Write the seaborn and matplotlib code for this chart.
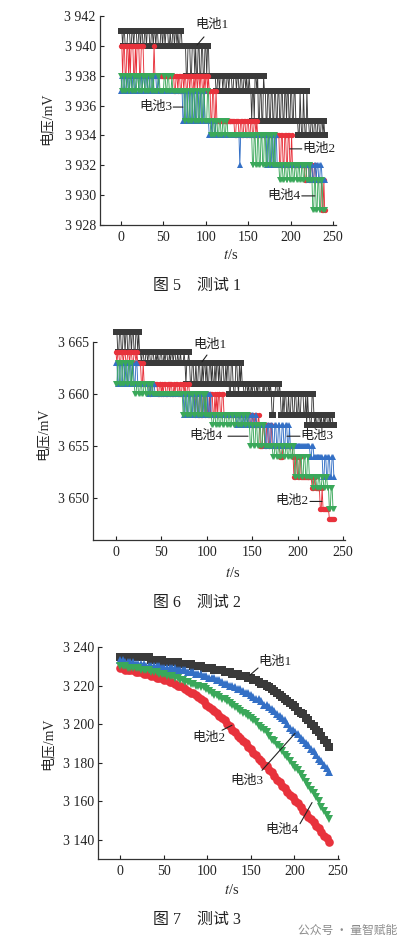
import numpy as np
import pandas as pd
import matplotlib
matplotlib.use("Agg")
import matplotlib.pyplot as plt
import seaborn as sns
from matplotlib.ticker import FuncFormatter, FixedLocator

# ---------------- data ----------------
batteries = ["电池1", "电池2", "电池3", "电池4"]
colors = ["#3a3a3a", "#e8323c", "#3470c6", "#3aa85a"]
markers = ["s", "o", "^", "v"]

# tests 1 and 2: one sample per second, t = 0 .. 240 s
t_fast = list(range(0, 241))

# each character = voltage offset (base-36 digit) from the base level, in mV
test1_base = 3928
test1_b1 = ("ddcddcccdd dccddcdddc cddcddccdd cdddccddcd dcddcccddc ddcdddccdc cddcddcdcc "
            "ddcccccaac ccaacccaca accaaccaac caccaaaaaa aa99aa9aaa 9aa99aa9aa a99aaa9aa9 "
            "9aa99aa9a9 9a997997aa 9a779977a9 9779977997 7997799779 9779979977 9977997776 "
            "6976697669 7766776677 6677667767 6")
test1_b2 = ("ccaccaacca cacccaacac ccaacccaaa aaaaaaaaac aaaaaaaaaa aaaaaaaaaa aaa99aa9aa "
            "99aa9aa99a a9aa99a9aa 9aa9aa99a9 aa9a997799 7797777777 7777777777 7777667776 "
            "6776677667 7667766776 7666666666 6666666666 6666666446 6446644664 4644444444 "
            "4444444334 4433443344 3333333113 1")
test1_b3 = ("9aa99aa9aa 9aa9aa99aa a99aa9aa9a a9aa99aa9a aa99a99999 9999999999 9999999999 "
            "9997799779 9779977977 9977997797 7777666766 6766666666 6666666666 6666666666 "
            "4666666666 6666666666 6666666666 6644664466 4466444444 4444444444 4444444444 "
            "4444444444 4433443344 3443344333 3")
test1_b4 = ("a99aa99aa9 9aa99aa99a a9aa99aa99 aa99aa99a9 9999aa9999 9aa99aa999 a999999999 "
            "9999977997 7997799779 9779977997 7799776677 6677667766 7766776666 6666666666 "
            "6666666666 6666644664 4664466446 6446644664 4644444334 4334433443 3443344334 "
            "4334433443 3344331133 1133113311 1")

test2_base = 3648
test2_b1 = ("iiggiiggii giiggiigii ggiigiggfg gffggfggff ggffgfgffg gffgfggffg fggfggffgf "
            "fgfffgfdff gfddffddfd dffddfdffd fddffdfddf dffdfddffd dfdffccffd ccffdcfdfd "
            "dccddcdccd cddccdcddc ccdcddccdc dcaaccddcc dcaacaccaa caaccaacca acaacccaac "
            "9caa99cca9 a99aa9a99a 9aa99a9aa9 9")
test2_b2 = ("gfggffggfg gffggfggff ggfgffffdd fdddddddcd ddddddccdd cdcddccddc ddccdcddcc "
            "dccddcdccd dccccccacc aaccaaccac caacaccaac acaccaacca aaaaaaaaaa aaaaaaaaaa "
            "aaaaaaa99a a99aa99a97 7799779977 9977777777 7666777777 7777764466 4466444444 "
            "4444443344 3333311311 1111100000 0")
test2_b3 = ("ffddffddff dffddffdff ddffdddddd ddddddccdc cddccccccc cccccccccc cccccccccc "
            "cccccaacca accaaccaac caaccaacca acaacaaaaa aaaaaaaaaa aaaaaaaaaa aaa99aa99a "
            "a99aa9aa99 aa99a99999 9999977997 7997799779 9779977997 7977777777 7777777777 "
            "7777667766 6666666644 6644664466 4")
test2_b4 = ("ddffddffdd ffddffddfd dccddccddc cddccddccd dccccccccc cccccccccc cccccccccc "
            "ccccaaccaa ccaaccaacc aaccaaccac aaaaaa99aa 99aa99aa99 aa99aa99aa 99aa99aa99 "
            "aa99aa9977 9977997799 7799777777 7776677667 7667766776 6776677446 6446644664 "
            "4664444334 4334433443 3443311331 1")

# test 3: one point every 3 s, voltage in mV
t_slow = list(range(0, 241, 3))
test3_b1 = [3235, 3235, 3235, 3235, 3235, 3235, 3235, 3235, 3235, 3235, 3235, 3235,
            3233, 3233, 3233, 3233, 3233, 3232, 3232, 3232, 3232,
            3232, 3232, 3231, 3231, 3231, 3231, 3231, 3230, 3230, 3230,
            3230, 3229, 3229, 3229, 3229, 3228, 3228, 3228, 3228, 3227,
            3227, 3227, 3226, 3226, 3226, 3225, 3225, 3225, 3224, 3224,
            3223, 3223, 3222, 3221, 3221, 3220, 3219, 3218, 3217, 3216,
            3215, 3214, 3213, 3212, 3211, 3210, 3209, 3207, 3206, 3205,
            3203, 3202, 3200, 3199, 3197, 3196, 3194, 3192, 3190, 3188]
test3_b2 = [3229, 3229, 3228, 3228, 3228, 3228, 3227, 3227, 3227, 3226, 3226,
            3226, 3225, 3225, 3224, 3224, 3224, 3223, 3223, 3222, 3222,
            3221, 3220, 3220, 3219, 3218, 3217, 3216, 3216, 3215, 3214,
            3213, 3212, 3210, 3209, 3208, 3207, 3206, 3204, 3203, 3202,
            3200, 3199, 3197, 3196, 3194, 3193, 3191, 3190, 3188, 3187,
            3185, 3184, 3182, 3181, 3179, 3178, 3176, 3175, 3173, 3171,
            3170, 3168, 3167, 3165, 3163, 3162, 3160, 3159, 3157, 3155,
            3154, 3152, 3151, 3149, 3147, 3146, 3144, 3142, 3141, 3139]
test3_b3 = [3233, 3233, 3232, 3232, 3232, 3232, 3231, 3231, 3231, 3231, 3230,
            3230, 3230, 3230, 3230, 3230, 3229, 3229, 3229, 3229, 3229,
            3229, 3228, 3228, 3228, 3228, 3227, 3227, 3227, 3226, 3226,
            3226, 3225, 3225, 3224, 3224, 3224, 3223, 3223, 3222, 3221,
            3221, 3220, 3220, 3219, 3218, 3218, 3217, 3216, 3216, 3215,
            3214, 3213, 3213, 3212, 3210, 3210, 3209, 3208, 3207, 3205,
            3204, 3203, 3202, 3200, 3198, 3197, 3196, 3195, 3193, 3192,
            3190, 3189, 3187, 3186, 3184, 3182, 3181, 3179, 3177, 3175]
test3_b4 = [3230, 3230, 3230, 3229, 3229, 3229, 3229, 3229, 3228, 3228, 3228,
            3228, 3227, 3227, 3227, 3226, 3226, 3226, 3225, 3225, 3225,
            3224, 3224, 3223, 3223, 3222, 3222, 3221, 3221, 3220, 3220,
            3219, 3219, 3218, 3217, 3216, 3215, 3215, 3214, 3213, 3213,
            3212, 3211, 3210, 3209, 3208, 3207, 3206, 3205, 3204, 3203,
            3202, 3201, 3199, 3198, 3197, 3196, 3194, 3192, 3191, 3189,
            3188, 3186, 3184, 3183, 3181, 3179, 3177, 3176, 3174, 3172,
            3170, 3168, 3166, 3164, 3162, 3160, 3157, 3155, 3153, 3151]

x_ticks = [0, 50, 100, 150, 200, 250]
test1_yticks = [3928, 3930, 3932, 3934, 3936, 3938, 3940, 3942]
test2_yticks = [3650, 3655, 3660, 3665]
test3_yticks = [3140, 3160, 3180, 3200, 3220, 3240]


def decode(code, base):
    s = code.replace(" ", "")
    assert len(s) == 241, len(s)
    return [base + int(ch, 36) for ch in s]


def frame(t, series):
    rows = []
    for name, vals in zip(batteries, series):
        assert len(vals) == len(t), (name, len(vals))
        rows.append(pd.DataFrame({"t": t, "V": vals, "电池": name}))
    return pd.concat(rows, ignore_index=True)


df1 = frame(t_fast, [decode(s, test1_base) for s in (test1_b1, test1_b2, test1_b3, test1_b4)])
df2 = frame(t_fast, [decode(s, test2_base) for s in (test2_b1, test2_b2, test2_b3, test2_b4)])
df3 = frame(t_slow, [test3_b1, test3_b2, test3_b3, test3_b4])

# ---------------- style ----------------
sns.set_style("ticks")
plt.rcParams["font.family"] = ["Liberation Serif", "Noto Sans CJK SC"]
plt.rcParams["mathtext.fontset"] = "stix"
plt.rcParams["axes.unicode_minus"] = False

W, H = 408, 946
fig = plt.figure(figsize=(W / 100, H / 100), dpi=100)


def px_axes(left, top, right, bottom):
    return fig.add_axes([left / W, 1 - bottom / H, (right - left) / W, (bottom - top) / H])


fmt = FuncFormatter(lambda v, p: f"{int(round(v)) // 1000} {int(round(v)) % 1000:03d}")


def draw(ax, df, ms, lw):
    for name, c, m in zip(batteries, colors, markers):
        sub = df[df["电池"] == name]
        sns.lineplot(data=sub, x="t", y="V", color=c, marker=m, markersize=ms,
                     markeredgewidth=0, markerfacecolor=c, linewidth=lw,
                     estimator=None, sort=False, ax=ax, clip_on=False, legend=False)


def style(ax, xlim, ylim, yticks, ylab_xy, xlab_xy):
    ax.set_xlim(*xlim)
    ax.set_ylim(*ylim)
    ax.xaxis.set_major_locator(FixedLocator(x_ticks))
    ax.yaxis.set_major_locator(FixedLocator(yticks))
    ax.yaxis.set_major_formatter(fmt)
    ax.tick_params(direction="in", length=3, width=0.8, labelsize=10, colors="#222")
    ax.tick_params(axis="x", pad=4)
    ax.tick_params(axis="y", pad=3)
    for sp in ("top", "right"):
        ax.spines[sp].set_visible(False)
    for sp in ("left", "bottom"):
        ax.spines[sp].set_color("#333")
        ax.spines[sp].set_linewidth(0.9)
    ax.set_ylabel("电压/mV", fontsize=10)
    ax.set_xlabel("$t$/s", fontsize=10.5)
    ax.yaxis.set_label_coords(*ylab_xy)
    ax.xaxis.set_label_coords(*xlab_xy)


def label(ax, text, txy, ha, p0, p1):
    ax.text(txy[0], txy[1], text, ha=ha, va="center", fontsize=9.5, color="#222")
    ax.annotate("", xy=p1, xytext=p0,
                arrowprops=dict(arrowstyle="-", lw=0.8, color="#222", shrinkA=0, shrinkB=0))


# ---- test 1 ----
ax1 = px_axes(100, 16, 336, 225)
draw(ax1, df1, ms=3.8, lw=0.65)
style(ax1, (-24.7, 253.3), (3928, 3942), test1_yticks, (-0.195, 0.51), (0.555, -0.11))
label(ax1, "电池1", (87.5, 3941.4), "left", (89.5, 3940.05), (97.8, 3940.6))
label(ax1, "电池3", (60.5, 3935.9), "right", (61.5, 3935.9), (73, 3935.9))
label(ax1, "电池2", (213.5, 3933.1), "left", (199, 3933.1), (213, 3933.1))
label(ax1, "电池4", (211.5, 3929.95), "right", (213, 3929.95), (228.5, 3929.95))

# ---- test 2 ----
ax2 = px_axes(93, 342, 345, 540)
draw(ax2, df2, ms=3.8, lw=0.65)
style(ax2, (-25.3, 252.2), (3646, 3665), test2_yticks, (-0.17, 0.535), (0.556, -0.13))
label(ax2, "电池1", (84.8, 3664.7), "left", (94.7, 3663.1), (100.2, 3663.75))
label(ax2, "电池4", (117.8, 3655.96), "right", (123.3, 3655.96), (145.4, 3655.96))
label(ax2, "电池3", (203, 3655.96), "left", (188.3, 3655.96), (202.6, 3655.96))
label(ax2, "电池2", (211.5, 3649.7), "right", (213.7, 3649.7), (226.9, 3649.7))

# ---- test 3 ----
ax3 = px_axes(98, 647, 339, 859)
draw(ax3, df3, ms=6.2, lw=1.0)
style(ax3, (-25.2, 251.1), (3130, 3240), test3_yticks, (-0.18, 0.542), (0.556, -0.115))
label(ax3, "电池1", (158.3, 3232.2), "left", (149, 3225.4), (158.3, 3229.1))
label(ax3, "电池2", (82.6, 3192.6), "left", (117, 3196.8), (128.4, 3199.4))
label(ax3, "电池3", (126, 3170.7), "left", (162.8, 3176), (200.7, 3195.2))
label(ax3, "电池4", (166.3, 3145.2), "left", (206.4, 3148.3), (220.2, 3159.3))

# ---- captions ----
for txt, y in (("图 5　测试 1", 285.5), ("图 6　测试 2", 602.5), ("图 7　测试 3", 919.5)):
    fig.text(196.7 / W, 1 - y / H, txt, ha="center", va="center", fontsize=11.5, color="#222")
fig.text(298 / W, 1 - 930 / H, "公众号 · 量智赋能", ha="left", va="center",
         fontsize=8.5, color="#8c8c8c", family=["Noto Sans CJK SC", "DejaVu Sans"])

fig.savefig("out.png", dpi=100)
